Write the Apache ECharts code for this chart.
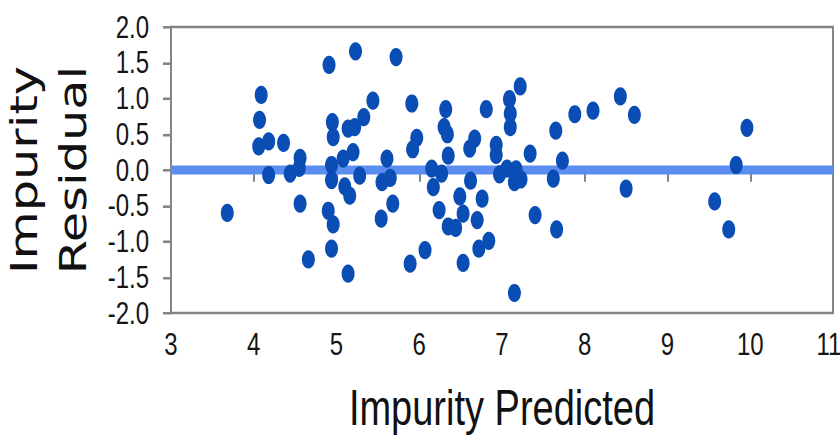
<!DOCTYPE html>
<html>
<head>
<meta charset="utf-8">
<script src="https://cdn.jsdelivr.net/npm/echarts@6/dist/echarts.min.js"></script>
<style>
  html, body { margin: 0; padding: 0; background: #ffffff; overflow: hidden; }
  #frame { width: 840px; height: 441px; overflow: hidden; }
  /* the chart is laid out in a shorter box and stretched vertically */
  #chart { width: 840px; transform-origin: 0 0; }
</style>
</head>
<body>
<div id="frame"><div id="chart"></div></div>
<script>
// Residuals against predicted impurity
const predicted = [
  3.68, 4.09, 4.07, 4.06, 4.18, 4.36, 4.18, 4.44, 4.56, 4.55,
  4.56, 4.66, 4.91, 4.95, 4.96, 4.94, 4.94, 5.08, 5.20, 5.14,
  5.22, 5.33, 5.44, 5.23, 5.28, 5.10, 5.16, 4.90, 4.96, 4.94,
  5.14, 5.61, 5.55, 5.65, 5.68, 5.54, 5.72, 5.91, 5.97, 5.92,
  6.32, 6.30, 6.34, 6.35, 6.15, 6.27, 6.17, 6.67, 6.61, 6.62,
  6.81, 6.93, 6.93, 7.09, 7.10, 7.10, 7.22, 7.34, 6.97, 7.06,
  7.17, 7.15, 7.23, 7.65, 7.73, 7.62, 7.88, 8.10, 6.49, 6.76,
  6.24, 6.53, 6.70, 6.35, 6.44, 6.07, 5.89, 6.72, 6.84, 6.53,
  7.15, 7.40, 7.66, 8.43, 8.60, 8.50, 9.57, 9.74, 9.83, 9.96
];
const residual = [
  -0.60, 1.05, 0.70, 0.33, 0.40, 0.38, -0.07, -0.05, 0.17, 0.03,
  -0.47, -1.25, 1.47, 0.67, 0.46, 0.07, -0.14, 0.16, 0.25, 0.58,
  0.60, 0.74, 0.97, 1.66, -0.08, -0.23, -0.36, -0.57, -0.76, -1.10,
  -1.45, 0.16, -0.17, -0.11, -0.47, -0.68, 1.58, 0.93, 0.45, 0.29,
  0.85, 0.60, 0.50, 0.20, 0.02, -0.05, -0.24, 0.44, 0.30, -0.15,
  0.85, 0.35, 0.21, 0.99, 0.79, 0.60, 1.17, 0.23, -0.06, 0.02,
  0.01, -0.17, -0.13, 0.55, 0.13, -0.12, 0.78, 0.83, -0.37, -0.40,
  -0.56, -0.61, -0.70, -0.79, -0.81, -1.12, -1.31, -1.10, -0.99, -1.30,
  -1.72, -0.63, -0.83, 1.03, 0.77, -0.26, -0.44, -0.83, 0.07, 0.59
];
const zeroLineX = [3, 11];
const zeroLineY = [0, 0];

const xTitle = 'Impurity Predicted';
const yTitle = 'Impurity\nResidual';

const points = predicted.map((x, i) => [x, residual[i]]);
const zeroLine = zeroLineX.map((x, i) => [x, zeroLineY[i]]);

// vertical stretch applied to the whole drawing
const STRETCH = 1.3;
const PAGE_W = 840, PAGE_H = 441;
const boxH = PAGE_H / STRETCH;
const X_MAX = 11;

const el = document.getElementById('chart');
el.style.height = boxH + 'px';
el.style.transform = 'scaleY(' + STRETCH + ')';

const sans = '"Liberation Sans", Arial, Helvetica, sans-serif';
const axisGray = '#858585';

const chart = echarts.init(el, null, { renderer: 'svg', width: PAGE_W, height: boxH });
chart.setOption({
  animation: false,
  backgroundColor: '#ffffff',
  grid: {
    left: 171, top: 27 / STRETCH, width: 662, height: 286 / STRETCH,
    containLabel: false, outerBoundsMode: 'none',
    show: true, borderColor: axisGray, borderWidth: 2, backgroundColor: 'transparent'
  },
  xAxis: {
    type: 'value', min: 3, max: X_MAX, interval: 1,
    axisLine: { show: true, lineStyle: { color: axisGray, width: 2 } },
    axisTick: { show: true, length: 9, lineStyle: { color: axisGray, width: 2 } },
    splitLine: { show: false },
    axisLabel: {
      fontFamily: sans, fontSize: 24, color: '#151515', margin: 12,
      // the last label sits at the page edge; nudge it inward a little
      formatter: v => v === X_MAX ? '{edge|' + v + '}' : String(v),
      rich: { edge: { fontFamily: sans, fontSize: 24, color: '#151515', padding: [0, 8, 0, 0] } }
    },
    name: xTitle, nameLocation: 'middle', nameGap: 54,
    nameTextStyle: { fontFamily: sans, fontSize: 38, color: '#111111' }
  },
  yAxis: {
    type: 'value', min: -2, max: 2, interval: 0.5,
    axisLine: { show: true, lineStyle: { color: axisGray, width: 2 } },
    axisTick: { show: true, length: 8, lineStyle: { color: axisGray, width: 2 } },
    splitLine: { show: false },
    axisLabel: {
      fontFamily: sans, fontSize: 24, color: '#151515', margin: 22,
      formatter: v => v.toFixed(1)
    },
    name: yTitle, nameLocation: 'middle', nameGap: 70, nameRotate: 90,
    nameTextStyle: { fontFamily: '"DejaVu Sans", Verdana, sans-serif', fontSize: 38, lineHeight: 49, color: '#111111' }
  },
  series: [
    {
      type: 'line',
      data: zeroLine,
      symbol: 'none',
      z: 1,
      lineStyle: { color: '#5b8ef0', width: 7 },
      silent: true
    },
    {
      type: 'scatter',
      data: points,
      z: 3,
      symbol: 'circle',
      symbolSize: [13, 14],
      itemStyle: { color: '#0a4db4', opacity: 1 }
    }
  ]
});
</script>
</body>
</html>
